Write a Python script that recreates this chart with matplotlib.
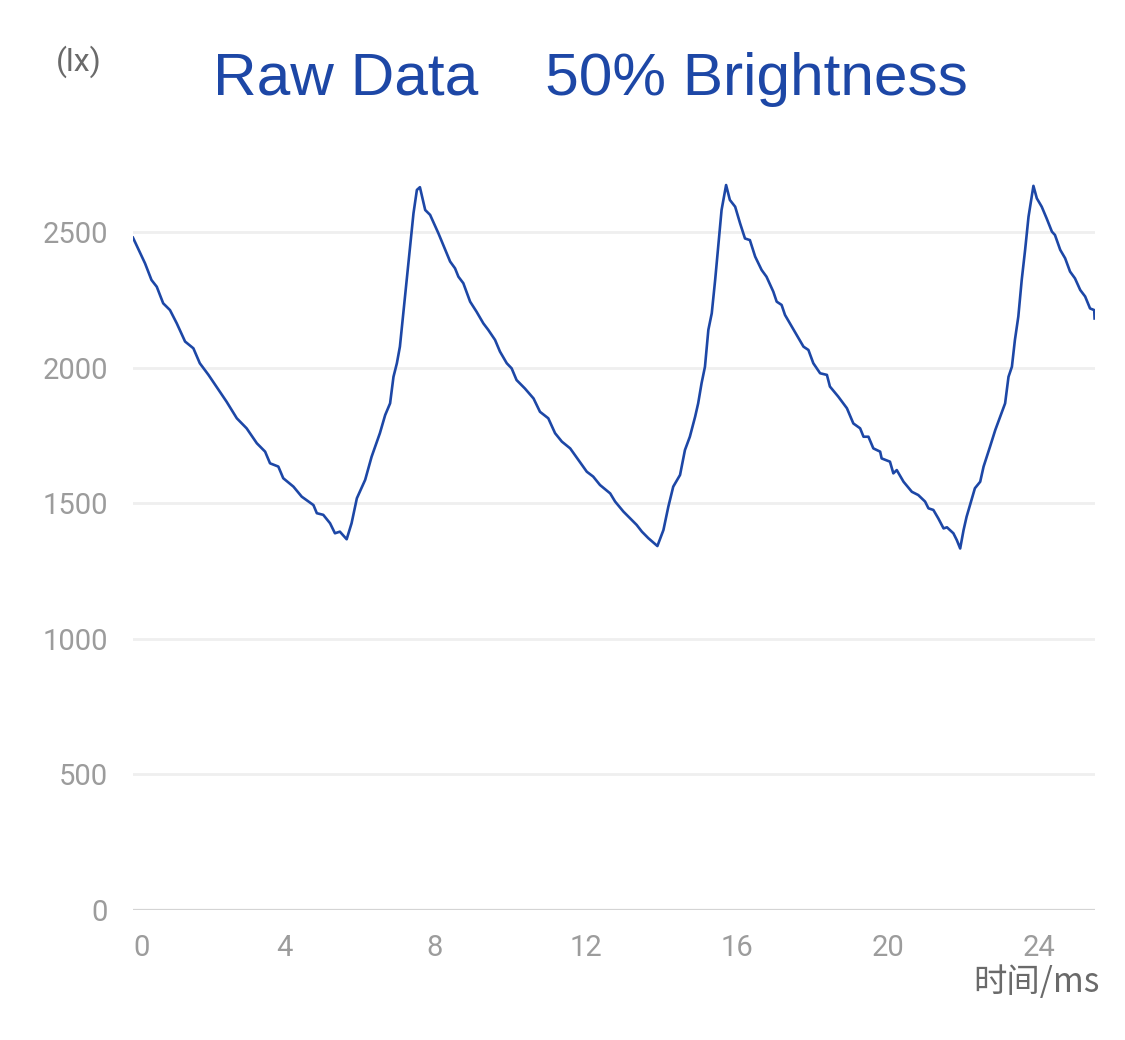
import matplotlib
matplotlib.use("Agg")
import matplotlib.pyplot as plt

# values
time_ms = [0.00, 0.32, 0.49, 0.63, 0.80, 0.98, 1.16, 1.38, 1.60, 1.77, 2.00, 2.30, 2.48,
           2.75, 3.01, 3.28, 3.50, 3.63, 3.85, 3.98, 4.25, 4.47, 4.78, 4.87, 5.04, 5.22,
           5.35, 5.48, 5.66, 5.79, 5.93, 6.15, 6.32, 6.54, 6.68, 6.81, 6.90, 6.99, 7.07,
           7.16, 7.25, 7.34, 7.43, 7.52, 7.60, 7.74, 7.87, 8.09, 8.31, 8.40, 8.53, 8.62,
           8.75, 8.93, 9.10, 9.28, 9.41, 9.59, 9.72, 9.90, 10.03, 10.16, 10.38, 10.61,
           10.78, 11.00, 11.18, 11.36, 11.58, 11.80, 12.02, 12.19, 12.37, 12.64, 12.77,
           12.99, 13.17, 13.34, 13.48, 13.65, 13.89, 14.05, 14.18, 14.31, 14.49, 14.62,
           14.75, 14.89, 14.97, 15.06, 15.15, 15.24, 15.33, 15.42, 15.50, 15.59, 15.71,
           15.81, 15.95, 16.08, 16.21, 16.34, 16.48, 16.65, 16.78, 16.96, 17.05, 17.18,
           17.27, 17.40, 17.58, 17.76, 17.89, 18.02, 18.20, 18.38, 18.46, 18.68, 18.91,
           19.08, 19.26, 19.35, 19.48, 19.61, 19.79, 19.83, 20.05, 20.14, 20.23, 20.41,
           20.63, 20.80, 20.98, 21.07, 21.20, 21.33, 21.47, 21.56, 21.73, 21.82, 21.91,
           22.00, 22.08, 22.17, 22.30, 22.44, 22.53, 22.70, 22.84, 22.97, 23.10, 23.19,
           23.28, 23.36, 23.45, 23.54, 23.63, 23.72, 23.85, 23.94, 24.07, 24.20, 24.34,
           24.42, 24.56, 24.69, 24.82, 24.95, 25.09, 25.22, 25.35, 25.46, 25.47]
lux = [2479, 2384, 2323, 2298, 2237, 2212, 2163, 2096, 2071, 2016, 1973, 1911, 1874,
       1813, 1776, 1721, 1690, 1647, 1635, 1592, 1561, 1524, 1493, 1463, 1457, 1426,
       1389, 1395, 1367, 1426, 1518, 1586, 1671, 1758, 1825, 1868, 1966, 2016, 2077,
       2200, 2323, 2446, 2569, 2655, 2665, 2581, 2563, 2495, 2421, 2391, 2366, 2335,
       2311, 2243, 2206, 2163, 2139, 2102, 2059, 2016, 1997, 1954, 1923, 1886,
       1837, 1813, 1758, 1727, 1702, 1659, 1616, 1598, 1567, 1536, 1506,
       1469, 1444, 1420, 1395, 1371, 1342, 1401, 1487, 1561, 1604, 1696,
       1745, 1819, 1868, 1942, 2003, 2139, 2200, 2323, 2446, 2581, 2673,
       2618, 2593, 2532, 2476, 2470, 2409, 2360, 2335, 2280, 2243, 2231,
       2194, 2163, 2120, 2077, 2065, 2016, 1979, 1973, 1930, 1893, 1850,
       1794, 1776, 1745, 1745, 1702, 1690, 1665, 1653, 1610, 1622, 1579,
       1542, 1530, 1506, 1481, 1475, 1444, 1407, 1411, 1389, 1364, 1333,
       1401, 1450, 1493, 1555, 1579, 1635, 1708, 1770, 1819, 1868, 1966,
       2003, 2102, 2188, 2323, 2434, 2556, 2670, 2624, 2593, 2550, 2501,
       2489, 2434, 2403, 2354, 2329, 2286, 2262, 2218, 2212, 2181]

x_ticks = [0, 4, 8, 12, 16, 20, 24]
y_ticks = [0, 500, 1000, 1500, 2000, 2500]

line_color = "#1d47a6"

fig = plt.figure(figsize=(11.25, 10.4), dpi=100)
ax = fig.add_axes([0.1182, 0.125, 0.8551, 0.7302])

for y in y_ticks[1:]:
    ax.axhline(y, color="#efefef", lw=2, zorder=0)
ax.axhline(0, color="#d4d4d4", lw=1.6, zorder=0)

ax.plot(time_ms, lux, color=line_color, lw=1.9)

ax.set_xlim(0, 25.48)
ax.set_ylim(0, 2800)
for s in ax.spines.values():
    s.set_visible(False)

ax.set_yticks(y_ticks)
ax.set_yticklabels([str(v) for v in y_ticks], fontsize=21, color="#9c9c9c", family="Roboto")
ax.set_xticks(x_ticks)
ax.set_xticklabels([str(v) for v in x_ticks], fontsize=21, color="#9c9c9c", family="Roboto")
ax.tick_params(axis="y", length=0, pad=18)
ax.tick_params(axis="x", length=0, pad=17)
ax.get_xticklabels()[0].set_horizontalalignment("left")

fig.text(590 / 1125, 1 - 95 / 1040, "Raw Data    50% Brightness", ha="center", va="baseline",
         fontsize=43.5, color=line_color, family="Liberation Sans")
fig.text(79 / 1125, 1 - 62 / 1040, "(lx)", ha="center", va="center",
         fontsize=23, color="#6a6a6a", family="Roboto")
fig.text(1100 / 1125, 1 - 983 / 1040, "时间/ms", ha="right", va="center",
         fontsize=24, color="#6a6a6a", family=["Noto Sans CJK SC", "DejaVu Sans"])

fig.savefig("out.png", dpi=100)
